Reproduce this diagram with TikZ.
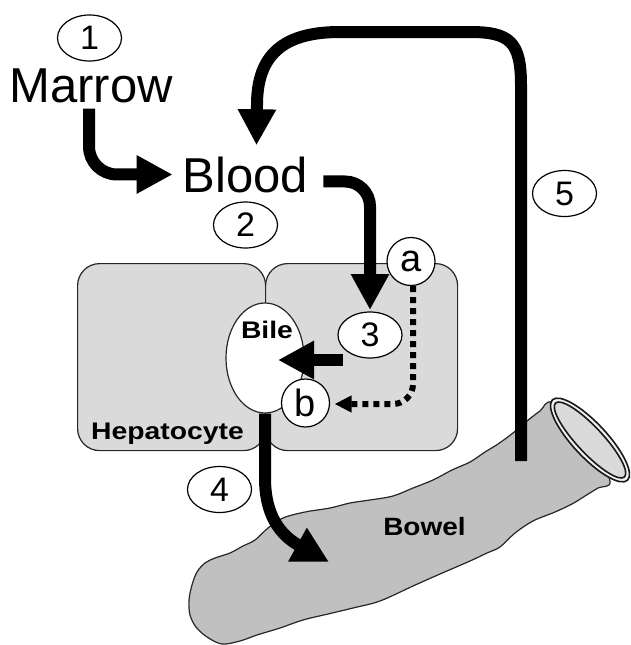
\documentclass[tikz,border=0pt]{standalone}
\usepackage{fontspec}
\setmainfont{Liberation Sans}
\usetikzlibrary{arrows.meta,shapes.geometric}
\definecolor{cellgray}{RGB}{218,218,218}
\definecolor{bowelgray}{RGB}{192,192,192}
\definecolor{ringgray}{RGB}{240,240,240}
\definecolor{holegray}{RGB}{218,218,218}
\begin{document}
\begin{tikzpicture}[x=1pt,y=-1pt,
  big/.style={font=\fontsize{49}{49}\selectfont, inner sep=0pt, anchor=base},
  lbl/.style={font=\fontsize{24}{24}\selectfont\bfseries, inner sep=0pt, anchor=base},
  numell/.style={draw, ellipse, line width=1.2pt, fill=white, minimum width=64pt, minimum height=46pt, inner sep=0pt, font=\fontsize{34}{34}\selectfont},
  letr/.style={draw, circle, line width=1.2pt, fill=white, minimum size=48pt, inner sep=0pt, font=\fontsize{38}{38}\selectfont},
  fat/.style={line width=12pt, -{Triangle[length=36pt,width=36pt]}},
  dots/.style={line width=6pt, dash pattern=on 6pt off 5pt, -{Triangle[length=17pt,width=16pt]}},
  cell/.style={draw=black!85, line width=1.2pt, fill=cellgray, rounded corners=22pt, inner sep=0pt, anchor=north west},
  outl/.style={draw=black!85, line width=1.2pt},
  ringl/.style={draw=black!90, line width=1.6pt}
]
\useasboundingbox (0,0) rectangle (630,645);

% cells
\node[cell, minimum width=188pt, minimum height=187pt] (leftcell) at (77,263) {};
\node[cell, minimum width=192pt, minimum height=187pt] (rightcell) at (265,263) {};
\node[outl, ellipse, fill=white, minimum width=78pt, minimum height=110pt, inner sep=0pt] (bilesac) at (265,358) {};

% bowel
\path[outl, fill=bowelgray] plot[smooth cycle, tension=0.55] coordinates {
 (553,403) (540,411) (527,421) (513,433) (498,444) (485,452) (470,462)
 (452,470) (433,480) (413,488) (393,496) (370,500) (350,503) (330,508)
 (305,512) (283,518) (268,528) (255,540) (243,546) (230,553) (215,558)
 (205,563) (197,572) (192,585) (189,600) (190,615) (196,627) (207,637)
 (222,644) (240,641) (257,635) (280,628) (303,620) (328,614) (353,608)
 (380,601) (413,586) (440,574) (470,561) (487,553) (500,547) (515,533)
 (533,521) (555,512) (572,504) (585,496) (598,488) (610,481) (590,440)};
\path[ringl, fill=ringgray, shift={(590,440)}, rotate=-47] (0,0) ellipse [x radius=55, y radius=17];
\path[ringl, fill=holegray, shift={(590,440)}, rotate=-47] (0,0) ellipse [x radius=50.5, y radius=13];

% texts
\node[big] (marrow) at (91,102) {Marrow};
\node[big] (blood) at (245.5,192) {Blood};
\node[lbl] (bile) at (267,338) {\scalebox{1.18}[1]{Bile}};
\node[lbl] (hep) at (167.5,439) {\scalebox{1.18}[1]{Hepatocyte}};
\node[lbl, font=\fontsize{25}{25}\selectfont\bfseries] (bowel) at (424.5,535) {\scalebox{1.12}[1]{Bowel}};

% connector end points
\coordinate (s3) at (343,360);
\coordinate (bowelin) at (329,562);
\coordinate (bowelout) at (521,461);

% arrows
\draw[fat, rounded corners=28pt] ([xshift=-2pt,yshift=-6pt]marrow.south) |- ([xshift=-10pt]blood.west);
\draw[fat, rounded corners=25pt] ([xshift=15pt,yshift=-7pt]blood.east) -| ([yshift=2pt]370,312);
\draw[fat] (bowelout) -- (521,85) .. controls (521,42) and (510,32) .. (470,32) -- (340,32)
   .. controls (283,32) and (257,55) .. (257,105) -- ([xshift=11pt,yshift=11pt]blood.north);
\draw[fat] (bilesac.south) -- (265,478) .. controls (265,515) and (280,535) .. (bowelin);

% numbered ellipses and letters
\node[numell] (n1) at (89.5,38) {1};
\node[numell] (n2) at (245.5,225) {2};
\node[numell] (n3) at (370,335) {3};
\node[numell] (n4) at (219.5,489.5) {4};
\node[numell] (n5) at (564.5,193.5) {5};
\draw[fat] (s3) -- ([xshift=13pt,yshift=-2pt]bilesac.center);
\node[letr] (a) at (411,261.5) {a};
\node[letr] (b) at (305.5,403) {b};
\draw[dots, rounded corners=20pt] ([xshift=2pt]a.south) |- ([xshift=4.5pt,yshift=-1pt]b.east);
\end{tikzpicture}
\end{document}
